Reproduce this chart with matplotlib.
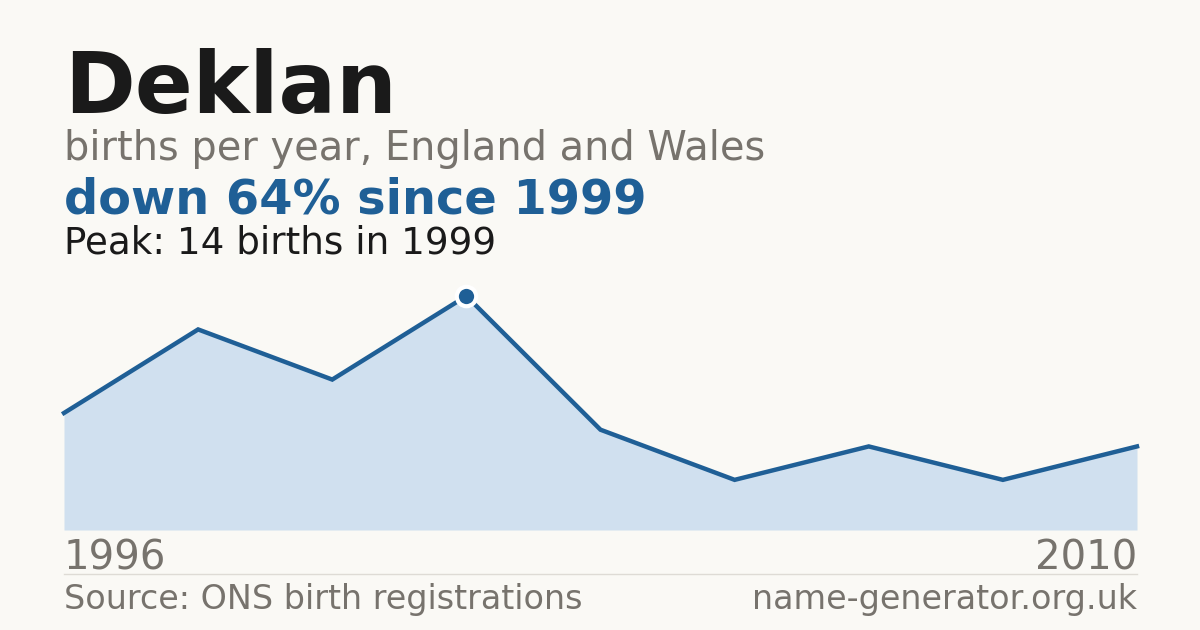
import matplotlib.pyplot as plt

# data (only first and last year are labelled)
years = ["1996", "1997", "1998", "1999", "2001", "2003", "2006", "2008", "2010"]
births = [7, 12, 9, 14, 6, 3, 5, 3, 5]

name = "Deklan"
subtitle = "births per year, England and Wales"
headline = "down 64% since 1999"
peak_note = "Peak: 14 births in 1999"
source = "Source: ONS birth registrations"
site = "name-generator.org.uk"

BG = "#faf9f5"
DARK = "#1a1a1a"
GREY = "#77736d"
BLUE = "#1f5f96"
FILL = "#d0e0ef"

plt.rcParams["font.family"] = ["DejaVu Sans"]

W, H = 1200, 630
fig = plt.figure(figsize=(12, 6.3), dpi=100, facecolor=BG)

def fx(px):
    return px / W

def fy(py):
    return 1 - py / H

# chart area
ax = fig.add_axes([fx(64), fy(530), fx(1137) - fx(64), fy(280) - fy(530)])
ax.set_facecolor(BG)
x = list(range(len(years)))
ax.fill_between(x, births, 0, color=FILL, lw=0)
ax.plot(x, births, color=BLUE, lw=3.2, solid_joinstyle="miter", clip_on=False)
peak_i = births.index(max(births))
ax.plot(x[peak_i], births[peak_i], "o", ms=14, mfc=BLUE, mec="white", mew=3,
        clip_on=False, zorder=5)
ax.set_xlim(0, len(years) - 1)
ax.set_ylim(0, max(births) * 250 / 234)
ax.axis("off")

# headings
fig.text(fx(64), fy(113), name, fontsize=61.5, fontweight="bold", color=DARK, va="baseline")
fig.text(fx(64), fy(160), subtitle, fontsize=28.7, color=GREY, va="baseline")
fig.text(fx(64), fy(214), headline, fontsize=34.5, fontweight="bold", color=BLUE, va="baseline")
fig.text(fx(64), fy(253), peak_note, fontsize=26.8, color=DARK, va="baseline")

# year labels
fig.text(fx(64), fy(569), years[0], fontsize=29, color=GREY, va="baseline")
fig.text(fx(1137), fy(569), years[-1], fontsize=29, color=GREY, va="baseline", ha="right")

# separator and footer
fig.add_artist(plt.Line2D([fx(64), fx(1137)], [fy(574), fy(574)], color="#dedbd5", lw=1))
fig.text(fx(64), fy(609), source, fontsize=24, color=GREY, va="baseline")
fig.text(fx(1137), fy(609), site, fontsize=24, color=GREY, va="baseline", ha="right")

fig.savefig("out.png", dpi=100, facecolor=BG)
